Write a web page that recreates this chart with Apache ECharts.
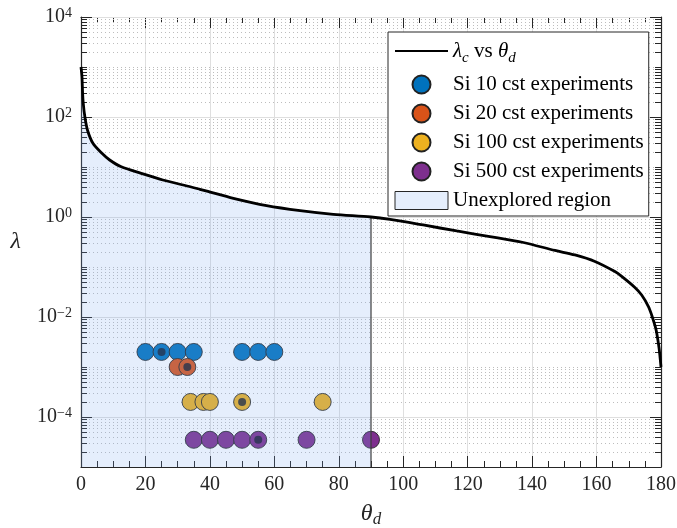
<!DOCTYPE html>
<html>
<head>
<meta charset="utf-8">
<script src="https://cdn.jsdelivr.net/npm/echarts@6/dist/echarts.min.js"></script>
<style>
  html, body { margin: 0; padding: 0; background: #fff; }
  #chart { width: 677px; height: 528px; }
</style>
</head>
<body>
<div id="chart"></div>
<script>
const SERIF = "'Liberation Serif', 'Times New Roman', serif";
const INK = '#262626';

// Critical curve lambda_c against theta_d
const curveTheta  = [0, 0.3, 0.5, 0.7, 1.2, 2.0, 3.7, 6.5, 8.9, 12.5, 18.7, 25.4, 34.2, 36.9, 39.4, 47.3, 57.6, 68, 78.3, 90,
                     95.9, 106.2, 116.6, 126.9, 137.3, 147.1, 153.3, 159.5, 165.7, 167.8, 171.9, 174, 176.1, 177.1, 178.2, 178.7, 179.4, 179.7, 180];
const curveLambda = [1000, 640, 298, 188, 101, 55, 29.8, 18.8, 13.8, 10.1, 7.48, 5.5, 3.98, 3.58, 3.24, 2.36, 1.69, 1.34, 1.13, 1.0,
                     0.897, 0.692, 0.525, 0.407, 0.309, 0.214, 0.174, 0.129, 0.081, 0.065, 0.039, 0.0275, 0.0162, 0.011, 0.0065, 0.0047, 0.0024, 0.00158, 0.001];

// Experiments
const si10Theta   = [20, 25, 30, 35, 50, 55, 60];
const si10Lambda  = [2e-3, 2e-3, 2e-3, 2e-3, 2e-3, 2e-3, 2e-3];
const si20Theta   = [30, 33];
const si20Lambda  = [1e-3, 1e-3];
const si100Theta  = [34, 38, 40, 50, 75];
const si100Lambda = [2e-4, 2e-4, 2e-4, 2e-4, 2e-4];
const si500Theta  = [35, 40, 45, 50, 55, 70, 90];
const si500Lambda = [3.5e-5, 3.5e-5, 3.5e-5, 3.5e-5, 3.5e-5, 3.5e-5, 3.5e-5];
// Runs marked with a centre dot
const markedTheta  = [25, 33, 50, 55];
const markedLambda = [2e-3, 1e-3, 2e-4, 3.5e-5];

// Axes
const xTickLabels = [0, 20, 40, 60, 80, 100, 120, 140, 160, 180];
const yTickExponents = [-4, -2, 0, 2, 4];
const yMinorMantissas = [2, 3, 4, 5, 6, 7, 8, 9];
const X_MIN = 0, X_MAX = 180, Y_MIN = 1e-5, Y_MAX = 1e4;
const REGION_LIMIT = 90;

const NAMES = {
  curve: 'λc vs θd',
  si10: 'Si 10 cst experiments',
  si20: 'Si 20 cst experiments',
  si100: 'Si 100 cst experiments',
  si500: 'Si 500 cst experiments',
  region: 'Unexplored region'
};
const COLORS = { si10: '#0072BD', si20: '#D95319', si100: '#EDB120', si500: '#7E2F8E' };
const REGION_FILL = 'rgba(125,170,240,0.2)';

const zip = (xs, ys) => xs.map((x, i) => [x, ys[i]]);
const curveData = zip(curveTheta, curveLambda);
const regionData = curveData.filter(p => p[0] <= REGION_LIMIT);
const lambdaAtLimit = curveLambda[curveTheta.indexOf(REGION_LIMIT)];

// y grid/tick positions: [x, value, isMajor]
const yGridTicks = [];
for (let e = -5; e < 4; e++) {
  if (e > -5) yGridTicks.push([0, Math.pow(10, e), yTickExponents.includes(e) ? 1 : 0]);
  yMinorMantissas.forEach(m => yGridTicks.push([0, m * Math.pow(10, e), 0]));
}
yGridTicks.push([0, Math.pow(10, 4), 1]);

const SMOOTH = 0.3;

function scatter(key, xs, ys) {
  return {
    type: 'scatter', name: NAMES[key], data: zip(xs, ys),
    symbol: 'circle', symbolSize: 17, z: 2,
    itemStyle: { color: COLORS[key], borderColor: '#222', borderWidth: 0.9, opacity: 1 },
    emphasis: { disabled: true }, silent: true
  };
}

const chart = echarts.init(document.getElementById('chart'), null, { renderer: 'canvas' });

const axisLineStyle = { color: INK, width: 1.2 };
const tickStyle = { color: INK, width: 1 };

chart.setOption({
  animation: false,
  backgroundColor: '#fff',
  grid: { left: 81, top: 17, width: 580, height: 450, outerBoundsMode: 'none', containLabel: false },
  xAxis: [
    {
      type: 'value', min: X_MIN, max: X_MAX, interval: 20, position: 'bottom',
      axisLine: { show: true, onZero: false, lineStyle: axisLineStyle },
      axisTick: { show: true, inside: true, length: 11, lineStyle: tickStyle },
      minorTick: { show: true, splitNumber: 4, length: 6, lineStyle: tickStyle },
      splitLine: { show: true, lineStyle: { color: '#dfdfdf', width: 1 } },
      minorSplitLine: { show: false },
      axisLabel: {
        show: true, margin: 8, fontFamily: SERIF, fontSize: 20, color: INK,
        formatter: v => xTickLabels.includes(v) ? String(v) : ''
      },
      name: '{i|θ}{s|d}', nameLocation: 'middle', nameGap: 33,
      nameTextStyle: {
        rich: {
          i: { fontFamily: SERIF, fontStyle: 'italic', fontSize: 24, lineHeight: 28, color: INK },
          s: { fontFamily: SERIF, fontStyle: 'italic', fontSize: 17, lineHeight: 14, verticalAlign: 'bottom', color: INK }
        }
      }
    },
    {
      type: 'value', min: X_MIN, max: X_MAX, interval: 20, position: 'top',
      axisLine: { show: true, onZero: false, lineStyle: axisLineStyle },
      axisTick: { show: true, inside: true, length: 11, lineStyle: tickStyle },
      minorTick: { show: true, splitNumber: 4, length: 6, lineStyle: tickStyle },
      splitLine: { show: false }, axisLabel: { show: false }
    }
  ],
  yAxis: [
    {
      type: 'log', logBase: 10, min: Y_MIN, max: Y_MAX, position: 'left',
      axisLine: { show: true, onZero: false, lineStyle: axisLineStyle },
      axisTick: { show: false },
      splitLine: { show: false },
      axisLabel: {
        show: true, margin: 9, color: INK,
        formatter: v => {
          const lg = Math.log10(v);
          const e = Math.round(lg);
          if (Math.abs(lg - e) > 1e-6 || !yTickExponents.includes(e)) return '';
          return '{b|10}{s|' + (e < 0 ? '\u2212' + (-e) : e) + '}';
        },
        rich: {
          b: { fontFamily: SERIF, fontSize: 20, lineHeight: 22, color: INK },
          s: { fontFamily: SERIF, fontSize: 14, lineHeight: 12, verticalAlign: 'top', color: INK }
        }
      },
      name: 'λ', nameLocation: 'middle', nameRotate: 0, nameGap: 60,
      nameTextStyle: { fontFamily: SERIF, fontStyle: 'italic', fontSize: 24, color: INK }
    },
    {
      type: 'log', logBase: 10, min: Y_MIN, max: Y_MAX, position: 'right',
      axisLine: { show: true, onZero: false, lineStyle: axisLineStyle },
      axisTick: { show: false }, splitLine: { show: false }, axisLabel: { show: false }
    }
  ],
  legend: {
    orient: 'vertical', left: 388, top: 32,
    padding: [4, 5, 5, 6],
    itemGap: 8, itemWidth: 53, itemHeight: 18,
    backgroundColor: '#fff', borderColor: INK, borderWidth: 1, borderRadius: 0,
    selectedMode: false,
    textStyle: {
      fontFamily: SERIF, fontSize: 21, color: '#000', lineHeight: 18,
      rich: {
        l: { fontFamily: SERIF, fontStyle: 'italic', fontSize: 21, lineHeight: 30, color: '#000' },
        lc: { fontFamily: SERIF, fontStyle: 'italic', fontSize: 15, lineHeight: 20, verticalAlign: 'bottom', color: '#000' },
        r: { fontFamily: SERIF, fontSize: 21, lineHeight: 30, color: '#000' }
      }
    },
    formatter: name => name === NAMES.curve ? '{l|λ}{lc|c}{r| vs }{l|θ}{lc|d}' : name,
    data: [
      // plain line sample: the centre symbol is made invisible
      { name: NAMES.curve, itemStyle: { color: 'rgba(0,0,0,0)', borderWidth: 0, opacity: 0 } },
      { name: NAMES.si10, icon: 'circle' },
      { name: NAMES.si20, icon: 'circle' },
      { name: NAMES.si100, icon: 'circle' },
      { name: NAMES.si500, icon: 'circle' },
      { name: NAMES.region, icon: 'rect', itemStyle: { color: REGION_FILL, borderColor: INK, borderWidth: 1 } }
    ]
  },
  series: [
    // y-axis grid lines and ticks (major every two decades, minor at 2..9 per decade)
    {
      type: 'custom', name: 'yGrid', data: yGridTicks, encode: { x: 0, y: 1 },
      z: 1, silent: true, clip: false,
      renderItem: (params, api) => {
        const v = api.value(1);
        const major = api.value(2) === 1;
        const a = api.coord([X_MIN, v]);
        const b = api.coord([X_MAX, v]);
        const y = Math.round(a[1]) + 0.5;
        const len = major ? 11 : 6;
        const children = [
          {
            type: 'line',
            shape: { x1: a[0], y1: y, x2: b[0], y2: y },
            style: major
              ? { stroke: '#dfdfdf', lineWidth: 1 }
              : { stroke: '#bdbdbd', lineWidth: 1, lineDash: [1, 3] }
          },
          { type: 'line', shape: { x1: a[0], y1: y, x2: a[0] + len, y2: y }, style: { stroke: INK, lineWidth: 1 } },
          { type: 'line', shape: { x1: b[0] - len, y1: y, x2: b[0], y2: y }, style: { stroke: INK, lineWidth: 1 } }
        ];
        return { type: 'group', children };
      }
    },
    scatter('si10', si10Theta, si10Lambda),
    scatter('si20', si20Theta, si20Lambda),
    scatter('si100', si100Theta, si100Lambda),
    scatter('si500', si500Theta, si500Lambda),
    {
      type: 'scatter', name: 'marked', data: zip(markedTheta, markedLambda),
      symbol: 'circle', symbolSize: 8, z: 2, silent: true,
      itemStyle: { color: '#111827', borderWidth: 0 }
    },
    // shaded region below the critical curve up to theta = 90
    {
      type: 'line', name: NAMES.region, data: regionData,
      smooth: SMOOTH, symbol: 'none', showSymbol: false,
      lineStyle: { width: 0, opacity: 0 },
      areaStyle: { color: REGION_FILL, origin: 'start', opacity: 1 },
      z: 3, silent: true
    },
    {
      type: 'line', name: 'regionEdge', data: [[REGION_LIMIT, Y_MIN], [REGION_LIMIT, lambdaAtLimit]],
      symbol: 'none', lineStyle: { color: '#3c3c3c', width: 1.2 }, z: 3, silent: true
    },
    {
      type: 'line', name: NAMES.curve, data: curveData,
      smooth: SMOOTH, symbol: 'none', showSymbol: false,
      lineStyle: { color: '#000', width: 2.8 }, itemStyle: { color: '#000' },
      z: 4, silent: true
    }
  ]
});
</script>
</body>
</html>
